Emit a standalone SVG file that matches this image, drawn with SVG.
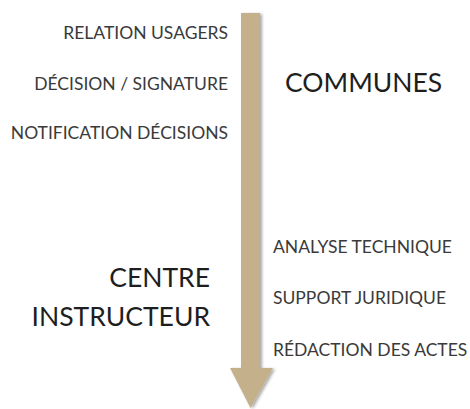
<svg xmlns="http://www.w3.org/2000/svg" width="470" height="409" viewBox="0 0 470 409">
<defs>
<style>
.s{font-family:Lato,"Open Sans","Liberation Sans",sans-serif;font-size:17.5px;fill:#3a3a3a}
.b{font-family:Lato,"Open Sans","Liberation Sans",sans-serif;font-size:26.5px;fill:#1e1e1e}
.r{text-anchor:end}
</style>
<filter id="sh" x="-50%" y="-10%" width="200%" height="120%">
<feDropShadow dx="2" dy="1" stdDeviation="1.5" flood-color="#000" flood-opacity="0.35"/>
</filter>
</defs>
<rect width="470" height="409" fill="#fff"/>
<g id="connectors">
<path d="M241,13 H260 V368 H273 L250.5,408 L230,368 H241 Z" fill="#c4b18c" filter="url(#sh)"/>
</g>
<g id="communes-tasks">
<text class="s r" x="228" y="39">RELATION USAGERS</text>
<text class="s r" x="228" y="90">DÉCISION / SIGNATURE</text>
<text class="s r" x="228" y="139">NOTIFICATION DÉCISIONS</text>
</g>
<g id="communes">
<text class="b" x="285" y="92">COMMUNES</text>
</g>
<g id="centre">
<text class="b r" x="210" y="287">CENTRE</text>
<text class="b r" x="210" y="326">INSTRUCTEUR</text>
</g>
<g id="centre-tasks">
<text class="s" x="273" y="253">ANALYSE TECHNIQUE</text>
<text class="s" x="273" y="304">SUPPORT JURIDIQUE</text>
<text class="s" x="273" y="356">RÉDACTION DES ACTES</text>
</g>
</svg>
